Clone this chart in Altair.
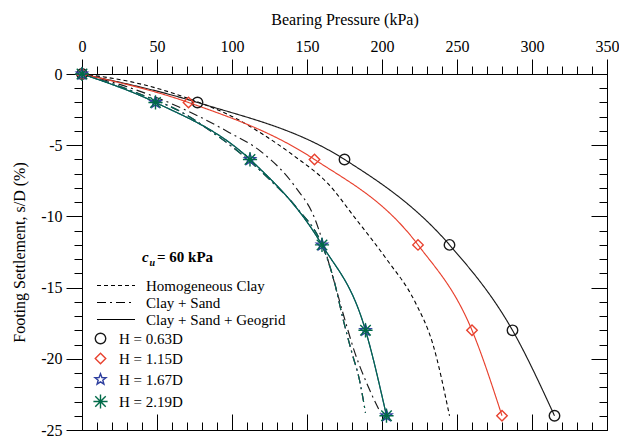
import altair as alt
import pandas as pd

FONT = "Liberation Serif, Times New Roman, Times, DejaVu Serif, serif"

# ---- tick values ----
x_major_ticks = [0, 50, 100, 150, 200, 250, 300, 350]
x_minor_ticks = [0, 10, 20, 30, 40, 50, 60, 70, 80, 90, 100, 110, 120, 130, 140, 150, 160, 170,
                 180, 190, 200, 210, 220, 230, 240, 250, 260, 270, 280, 290, 300, 310, 320, 330, 340, 350]
y_major_ticks = [0, -5, -10, -15, -20, -25]
y_minor_ticks = [0, -1, -2, -3, -4, -5, -6, -7, -8, -9, -10, -11, -12, -13, -14, -15, -16, -17,
                 -18, -19, -20, -21, -22, -23, -24, -25]

# ---- categories ----
h_labels = ["H = 0.63D", "H = 1.15D", "H = 1.67D", "H = 2.19D"]
h_colors = ["#1a1a1a", "#e8412e", "#2e3f9f", "#006a48"]
STAR = ("M0,-1.1L0.27,-0.37L1.05,-0.34L0.44,0.14L0.65,0.89L0,0.46L-0.65,0.89"
        "L-0.44,0.14L-1.05,-0.34L-0.27,-0.37Z")
ASTERISK = "M-1.35,0L1.35,0M0,-1.35L0,1.35M-1,-1L1,1M-1,1L1,-1"
h_shapes = ["circle", "diamond", STAR, ASTERISK]
type_labels = ["Homogeneous Clay", "Clay + Sand", "Clay + Sand + Geogrid"]
note_parts = ["c", "u", "= 60 kPa"]

# ---- data: Clay + Sand + Geogrid (solid, with markers) ----
geo_s = [0, -2, -6, -12, -18, -24]
geo_p_063 = [0, 77, 175, 245, 287, 315]
geo_p_115 = [0, 71, 155, 224, 260, 280]
geo_p_167 = [0, 49, 112, 160, 189, 203]
geo_p_219 = [0, 49, 112, 160, 189, 203]

# ---- data: Homogeneous Clay (dashed) ----
hc_s = [0, -0.6, -1.8, -3.2, -4.2, -5.8, -7.7, -10.1, -13.0, -16.0, -19.0, -24.0]
hc_p = [0, 35, 73, 104, 120, 142, 164, 182, 203, 222, 234, 245]

# ---- data: Clay + Sand (dash-dot) ----
cs_s_063 = [0, -0.9, -2.1, -4.1, -5.5, -7.9, -10.1, -13.8, -16.8, -19.6, -22.0, -23.8]
cs_p_063 = [0, 30, 60, 98, 120, 142, 155, 166, 174, 182, 191, 199]
cs_s_115 = [0, -1.3, -2.9, -4.1, -5.1, -7.4, -9.5, -12.0, -14.5, -17.2, -19.6, -21.5, -23.8]
cs_p_115 = [0, 36, 70, 87, 100, 125, 144, 160, 168, 174, 180, 185, 189]
cs_s_167 = [0, -1.3, -2.9, -4.1, -5.1, -7.4, -9.5, -12.0, -14.5, -17.2, -19.6, -21.5, -23.8]
cs_p_167 = [0, 36, 70, 87, 100, 125, 144, 160, 168, 174, 180, 185, 189]
cs_s_219 = [0, -1.3, -2.9, -4.1, -5.1, -7.4, -9.5, -12.0, -14.5, -17.2, -19.6, -21.5, -23.8]
cs_p_219 = [0, 36, 70, 87, 100, 125, 144, 160, 168, 174, 180, 185, 189]


def rows(kind, h, ps, ss):
    return [dict(p=p, s=s, type=kind, H=h, i=i) for i, (p, s) in enumerate(zip(ps, ss))]


hc_df = pd.DataFrame(rows("Homogeneous Clay", "", hc_p, hc_s))
line_rows = []
line_rows += rows("Clay + Sand", h_labels[0], cs_p_063, cs_s_063)
line_rows += rows("Clay + Sand", h_labels[1], cs_p_115, cs_s_115)
line_rows += rows("Clay + Sand", h_labels[2], cs_p_167, cs_s_167)
line_rows += rows("Clay + Sand", h_labels[3], cs_p_219, cs_s_219)
line_rows += rows("Clay + Sand + Geogrid", h_labels[0], geo_p_063, geo_s)
line_rows += rows("Clay + Sand + Geogrid", h_labels[1], geo_p_115, geo_s)
line_rows += rows("Clay + Sand + Geogrid", h_labels[2], geo_p_167, geo_s)
line_rows += rows("Clay + Sand + Geogrid", h_labels[3], geo_p_219, geo_s)
lines_df = pd.DataFrame(line_rows)

pt_rows = []
pt_rows += rows("Clay + Sand + Geogrid", h_labels[0], geo_p_063, geo_s)
pt_rows += rows("Clay + Sand + Geogrid", h_labels[1], geo_p_115, geo_s)
pt_rows += rows("Clay + Sand + Geogrid", h_labels[2], geo_p_167, geo_s)
pt_rows += rows("Clay + Sand + Geogrid", h_labels[3], geo_p_219, geo_s)
pts_df = pd.DataFrame(pt_rows)

W, H = 525, 356

xs = alt.Scale(domain=[0, 350], nice=False, zero=False)
ys = alt.Scale(domain=[-25, 0], nice=False, zero=False)
dash_scale = alt.Scale(domain=type_labels, range=[[4, 3], [9, 4, 2, 4], [1, 0]])
color_scale = alt.Scale(domain=h_labels, range=h_colors)
shape_scale = alt.Scale(domain=h_labels, range=h_shapes)
sw_scale = alt.Scale(domain=h_labels, range=[1.4, 1.4, 1.4, 2.3])

dash_legend = alt.Legend(
    title=None, orient="none", legendX=14, legendY=203, padding=0,
    symbolType="stroke", symbolSize=1444, symbolStrokeColor="black",
    symbolStrokeWidth=1.1, clipHeight=17, rowPadding=0,
    labelFont=FONT, labelFontSize=15, labelColor="black", labelOffset=10,
)
h_legend = alt.Legend(
    title=None, orient="none", legendX=11, legendY=257, padding=0,
    symbolSize=110, rowPadding=3,
    labelFont=FONT, labelFontSize=15, labelColor="black", labelOffset=11,
)

X = alt.X("p:Q", scale=xs, axis=None)
Y = alt.Y("s:Q", scale=ys, axis=None)

hc_layer = alt.Chart(hc_df).mark_line(color="black", strokeWidth=1.1, interpolate="monotone").encode(
    x=X, y=Y,
    strokeDash=alt.StrokeDash("type:N", scale=dash_scale, legend=dash_legend),
    order=alt.Order("i:Q"),
)

lines_layer = alt.Chart(lines_df).mark_line(strokeWidth=1.15, interpolate="monotone").encode(
    x=X, y=Y,
    color=alt.Color("H:N", scale=color_scale, legend=h_legend),
    strokeDash=alt.StrokeDash("type:N", scale=dash_scale, legend=dash_legend),
    order=alt.Order("i:Q"),
)

pts_layer = alt.Chart(pts_df).mark_point(filled=False, size=110, opacity=1).encode(
    x=X, y=Y,
    color=alt.Color("H:N", scale=color_scale, legend=h_legend),
    shape=alt.Shape("H:N", scale=shape_scale, legend=h_legend),
    strokeWidth=alt.StrokeWidth("H:N", scale=sw_scale, legend=h_legend),
)

common_axis = dict(grid=False, tickColor="black", tickWidth=1, domainColor="black", domainWidth=1)


def x_axis_layer(axis):
    return alt.Chart(pts_df).mark_point(opacity=0).encode(
        x=alt.X("p:Q", scale=xs, axis=axis), y=alt.Y("s:Q", scale=ys, axis=None))


def y_axis_layer(axis):
    return alt.Chart(pts_df).mark_point(opacity=0).encode(
        x=alt.X("p:Q", scale=xs, axis=None), y=alt.Y("s:Q", scale=ys, axis=axis))


ax_top = x_axis_layer(alt.Axis(
    orient="top", values=x_major_ticks, tickSize=15, domain=True,
    labelFont=FONT, labelFontSize=16, labelColor="black", labelPadding=5,
    labelFlush=False, labelOverlap=False,
    title="Bearing Pressure (kPa)", titleFont=FONT, titleFontSize=16,
    titleFontWeight="normal", titleColor="black", titlePadding=11, **common_axis))
ax_top_minor = x_axis_layer(alt.Axis(
    orient="top", values=x_minor_ticks, tickSize=8, labels=False, domain=False,
    title=None, **common_axis))
ax_bot = x_axis_layer(alt.Axis(
    orient="top", offset=-H, values=x_major_ticks, tickSize=16, labels=False, domain=True,
    title=None, **common_axis))
ax_bot_minor = x_axis_layer(alt.Axis(
    orient="top", offset=-H, values=x_minor_ticks, tickSize=8, labels=False, domain=False,
    title=None, **common_axis))

ax_left = y_axis_layer(alt.Axis(
    orient="left", values=y_major_ticks, tickSize=16, domain=True,
    labelFont=FONT, labelFontSize=16, labelColor="black", labelPadding=4,
    labelFlush=False, labelOverlap=False, labelExpr="'' + datum.value",
    minExtent=44, maxExtent=44,
    title="Footing Settlement, s/D (%)", titleFont=FONT, titleFontSize=16,
    titleFontWeight="normal", titleColor="black", titlePadding=11, **common_axis))
ax_left_minor = y_axis_layer(alt.Axis(
    orient="left", values=y_minor_ticks, tickSize=8, labels=False, domain=False,
    title=None, **common_axis))
ax_right = y_axis_layer(alt.Axis(
    orient="left", offset=-W, values=y_major_ticks, tickSize=16, labels=False, domain=True,
    title=None, **common_axis))
ax_right_minor = y_axis_layer(alt.Axis(
    orient="left", offset=-W, values=y_minor_ticks, tickSize=8, labels=False, domain=False,
    title=None, **common_axis))


def note(part, size, italic, x, y):
    kw = dict(font=FONT, fontSize=size, fontWeight="bold", align="left",
              baseline="alphabetic", color="black")
    if italic:
        kw["fontStyle"] = "italic"
    return alt.Chart(pd.DataFrame({"t": [part]})).mark_text(**kw).encode(
        text="t:N", x=alt.value(x), y=alt.value(y))


txt_c = note(note_parts[0], 15, True, 60, 188)
txt_u = note(note_parts[1], 10, True, 67.5, 192)
txt_rest = note(note_parts[2], 15, False, 75, 188)

chart = alt.layer(
    ax_top_minor, ax_top, ax_bot_minor, ax_bot,
    ax_left_minor, ax_left, ax_right_minor, ax_right,
    hc_layer, lines_layer, pts_layer, txt_c, txt_u, txt_rest,
).resolve_axis(x="independent", y="independent").properties(
    width=W, height=H,
    autosize=alt.AutoSizeParams(type="none"),
    padding={"left": 74, "top": 66, "right": 12, "bottom": 7},
).configure_view(stroke="transparent")

chart.save("out.html", embed_options={"renderer": "svg", "actions": False})
